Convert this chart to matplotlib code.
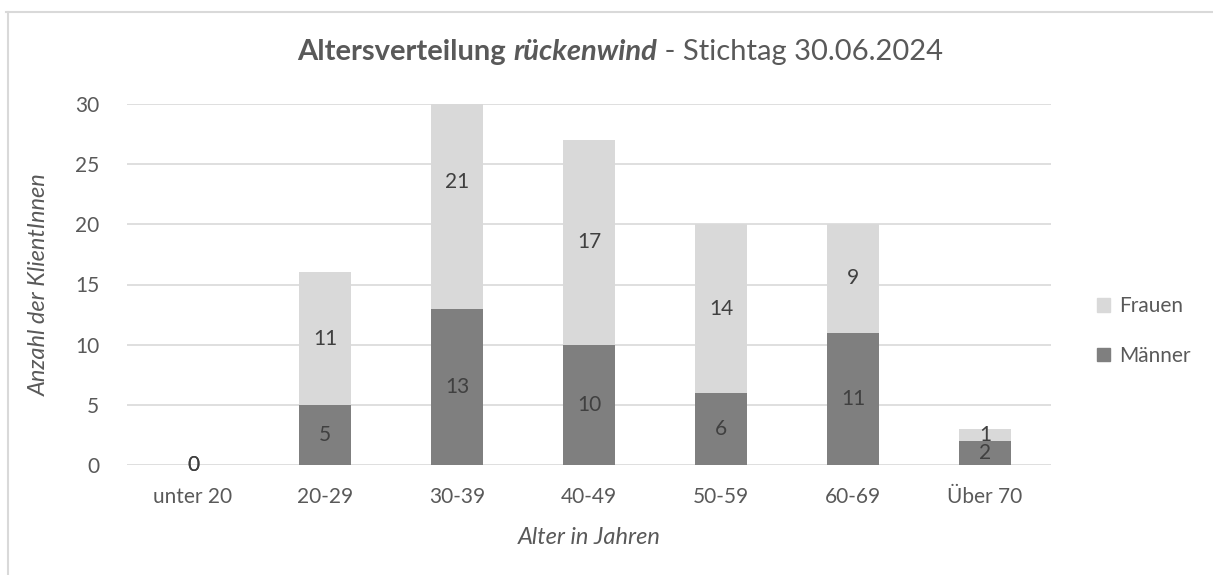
from matplotlib import pyplot as plt
from matplotlib.lines import Line2D
from matplotlib.patches import Patch
import numpy

categories = ['unter 20', '20-29', '30-39', '40-49', '50-59', '60-69', 'Über 70']
maenner = [0, 5, 13, 10, 6, 11, 2]
frauen = [0, 11, 21, 17, 14, 9, 1]
yticks = [0, 5, 10, 15, 20, 25, 30]

plt.rcParams['font.family'] = ['Lato', 'DejaVu Sans']

text_col = '#595959'
dark = '#7f7f7f'
light = '#d9d9d9'
grid_col = '#d9d9d9'

fig = plt.figure(figsize=(12.13, 5.75), dpi=100)
ax = fig.add_axes([127 / 1213, 1 - 465 / 575, (1051 - 127) / 1213, (465 - 104) / 575])

x = numpy.arange(len(categories))
ax.bar(x, maenner, width=0.4, color=dark, zorder=3)
ax.bar(x, frauen, width=0.4, bottom=maenner, color=light, zorder=3)

for i in range(len(categories)):
  m = maenner[i]
  f = frauen[i]
  ax.text(x[i], m / 2, str(m), ha='center', va='center', fontsize=15, color='#404040', zorder=4)
  ax.text(x[i], m + f / 2, str(f), ha='center', va='center', fontsize=15, color='#404040', zorder=4)

ax.set_xlim(-0.5, len(categories) - 0.5)
ax.set_ylim(0, 30)
ax.set_yticks(yticks)
ax.set_xticks(x)
ax.set_xticklabels(categories)
ax.tick_params(axis='both', length=0, labelsize=15, colors=text_col)
ax.tick_params(axis='y', pad=20)
ax.tick_params(axis='x', pad=16)
ax.grid(axis='y', color=grid_col, linewidth=1.2, zorder=0)
for s in ax.spines.values():
  s.set_visible(False)

ax.set_ylabel('Anzahl der KlientInnen', fontsize=17, style='italic', color=text_col, labelpad=18)
ax.set_xlabel('Alter in Jahren', fontsize=17, style='italic', color=text_col, labelpad=14)

# title in three parts
t1 = fig.text(0, 0, 'Altersverteilung ', fontsize=21, fontweight='bold', color=text_col)
t2 = fig.text(0, 0, 'rückenwind', fontsize=21, fontweight='bold', style='italic', color=text_col)
t3 = fig.text(0, 0, ' - Stichtag 30.06.2024', fontsize=21, color=text_col)
r = fig.canvas.get_renderer()
widths = [t.get_window_extent(renderer=r).width for t in (t1, t2, t3)]
x0 = 620 - sum(widths) / 2
ty = 1 - 60 / 575
for t, w in zip((t1, t2, t3), widths):
  t.set_position((x0 / 1213, ty))
  t.set_va('baseline')
  x0 += w

handles = [Patch(color=light), Patch(color=dark)]
fig.legend(handles, ['Frauen', 'Männer'], loc='center left', bbox_to_anchor=(1087 / 1213, 1 - 331 / 575),
           frameon=False, fontsize=15, labelcolor=text_col, handlelength=0.6, handleheight=0.6,
           handletextpad=0.45, labelspacing=1.4, borderpad=0)

fig.add_artist(Line2D([6 / 1213, 1], [1 - 11.5 / 575] * 2, color='#d9d9d9', linewidth=1.5))
fig.add_artist(Line2D([7.5 / 1213] * 2, [0, 1 - 11.5 / 575], color='#d9d9d9', linewidth=1.5))

fig.savefig('out.png', dpi=100)
